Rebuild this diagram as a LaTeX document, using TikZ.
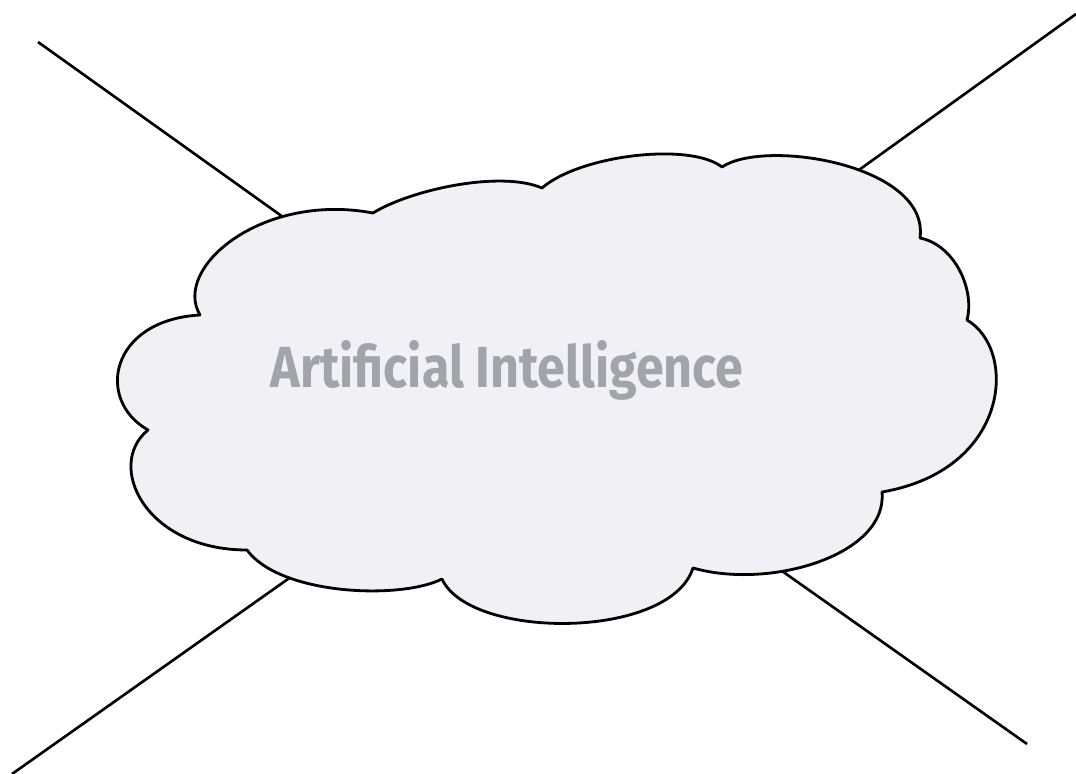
\documentclass[tikz,border=0pt]{standalone}
\usepackage{fontspec}
\newfontfamily\cloudfont[FakeStretch=0.865]{Fira Sans}
\definecolor{cloudfill}{RGB}{240,240,245}
\definecolor{cloudtext}{RGB}{163,164,170}
\tikzset{
  outline/.style={draw=black, line width=1.6pt, line join=round, fill=cloudfill},
  spoke/.style={draw=black, line width=1.5pt},
  cloudlabel/.style={font=\cloudfont\bfseries\fontsize{33}{33}\selectfont, text=cloudtext, anchor=base, inner sep=0pt}
}
\begin{document}
\begin{tikzpicture}[x=0.02cm,y=-0.02cm]
\useasboundingbox (0,0) rectangle (1076,774);
% free ends of the spokes
\coordinate (tl) at (38,42);
\coordinate (tr) at (1076,14);
\coordinate (bl) at (12,774);
\coordinate (br) at (1027,744);
% ends of the spokes, hidden under the cloud
\coordinate (tlc) at (290,222);
\coordinate (trc) at (845,180);
\coordinate (blc) at (305,567);
\coordinate (brc) at (765,559);
\draw[spoke] (tl) -- (tlc);
\draw[spoke] (tr) -- (trc);
\draw[spoke] (bl) -- (blc);
\draw[spoke] (br) -- (brc);
% cloud
\path[outline] (200,315)
 .. controls (172,268) and (262,192) .. (373,213)
 .. controls (410,190) and (500,170) .. (542,188)
 .. controls (580,155) and (690,142) .. (722,167)
 .. controls (765,138) and (930,165) .. (920,238)
 .. controls (955,245) and (975,290) .. (967,320)
 .. controls (1018,350) and (1010,470) .. (882,492)
 .. controls (888,555) and (770,590) .. (693,568)
 .. controls (670,640) and (470,640) .. (442,579)
 .. controls (400,600) and (280,595) .. (247,550)
 .. controls (145,550) and (105,465) .. (148,430)
 .. controls (95,400) and (110,320) .. (200,315)
 -- cycle;
\node[cloudlabel] (label) at (507,387) {Artificial Intelligence};
\end{tikzpicture}
\end{document}
